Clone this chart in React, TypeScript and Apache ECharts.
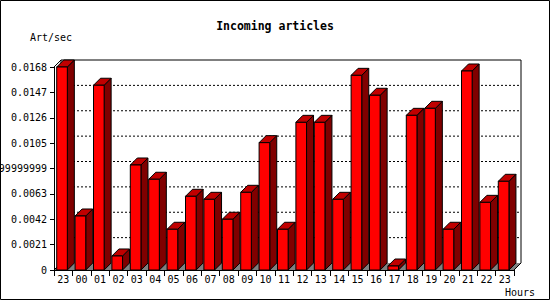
import React, { useEffect, useRef } from "react";
import * as echarts from "echarts";

const hours = ["23", "00", "01", "02", "03", "04", "05", "06", "07", "08", "09", "10", "11", "12", "13", "14", "15", "16", "17", "18", "19", "20", "21", "22", "23"];
const artPerSec = [0.0168, 0.00447, 0.01529, 0.00116, 0.00869, 0.00751, 0.00337, 0.0061, 0.00585, 0.0042, 0.00643, 0.01054, 0.00337, 0.01222, 0.01222, 0.00585, 0.01611, 0.01446, 0.00033, 0.0128, 0.01338, 0.00337, 0.01647, 0.0056, 0.00734];
const yMax = 0.0168;
const yStep = 0.0021;
const yTickLabels = ["0", "0.0021", "0.0042", "0.0063", "0.00839999999999999", "0.0105", "0.0126", "0.0147", "0.0168"];
const gridTicks = [0.0021, 0.0042, 0.0063, 0.0084, 0.0105, 0.0126, 0.0147];

const FONT = "DejaVu Sans Mono";
const D = 7; // 3D depth in px

export default function App() {
  const ref = useRef<HTMLDivElement>(null);
  useEffect(() => {
    const chart = echarts.init(ref.current!, null, { renderer: "svg" });
    chart.setOption({
      animation: false,
      backgroundColor: "#fff",
      title: {
        text: "Incoming articles",
        left: "center",
        top: 20,
        padding: 0,
        textStyle: { fontFamily: FONT, fontSize: 11.5, fontWeight: "bold", color: "#000" },
      },
      grid: { left: 54, right: 36, top: 67, bottom: 30, containLabel: false, outerBoundsMode: "none" },
      xAxis: {
        type: "category",
        data: hours,
        boundaryGap: true,
        axisLine: { show: true, lineStyle: { color: "#000", width: 1 } },
        axisTick: { show: true, length: 6, alignWithLabel: false, lineStyle: { color: "#000" } },
        axisLabel: { interval: 0, margin: 4, color: "#000", fontFamily: FONT, fontSize: 10 },
        splitLine: { show: false },
      },
      yAxis: {
        type: "value",
        min: 0,
        max: yMax,
        interval: yStep,
        axisLine: { show: true, lineStyle: { color: "#000", width: 1 } },
        axisTick: { show: true, length: 4, lineStyle: { color: "#000" } },
        axisLabel: {
          margin: 7,
          color: "#000",
          fontFamily: FONT,
          fontSize: 10,
          formatter: (_v: number, i: number) => yTickLabels[i] ?? String(_v),
        },
        splitLine: { show: false },
      },
      graphic: [
        {
          type: "rect",
          shape: { x: 0.5, y: 0.5, width: 549, height: 299 },
          style: { fill: "none", stroke: "#000", lineWidth: 1 },
          z: 100,
        },
        {
          type: "text",
          x: 30,
          y: 37,
          style: { text: "Art/sec", fontFamily: FONT, fontSize: 10, fill: "#000", verticalAlign: "middle" },
        },
        {
          type: "text",
          x: 505,
          y: 292,
          style: { text: "Hours", fontFamily: FONT, fontSize: 10, fill: "#000", verticalAlign: "middle" },
        },
      ],
      series: [
        {
          type: "custom",
          name: "wall",
          z: 1,
          silent: true,
          data: [[0, 0]],
          renderItem: (params: any, api: any) => {
            const cs = params.coordSys;
            const x0 = cs.x;
            const x1 = cs.x + cs.width;
            const yb = api.coord([0, 0])[1];
            const yt = api.coord([0, yMax])[1];
            const children: any[] = [];
            children.push({
              type: "polygon",
              shape: { points: [[x0, yb], [x1, yb], [x1 + D, yb - D], [x0 + D, yb - D]] },
              style: { fill: "#808080", stroke: null },
            });
            gridTicks.forEach((t) => {
              const y = api.coord([0, t])[1] - D;
              children.push({
                type: "line",
                shape: { x1: x0 + D, y1: y, x2: x1 + D, y2: y },
                style: { stroke: "#000", lineWidth: 1, lineDash: [2, 2] },
              });
            });
            const lines = [
              [x0 + D, yt - D, x1 + D, yt - D],
              [x1 + D, yt - D, x1 + D, yb - D],
              [x0 + D, yt - D, x0 + D, yb - D],
              [x0, yt, x0 + D, yt - D],
              [x0, yb, x0 + D, yb - D],
              [x1, yb, x1 + D, yb - D],
            ];
            lines.forEach((l) =>
              children.push({
                type: "line",
                shape: { x1: l[0], y1: l[1], x2: l[2], y2: l[3] },
                style: { stroke: "#000", lineWidth: 1 },
              })
            );
            return { type: "group", children };
          },
        },
        {
          type: "custom",
          name: "Art/sec",
          z: 2,
          data: artPerSec.map((v, i) => [i, v]),
          renderItem: (params: any, api: any) => {
            const idx = api.value(0);
            const v = api.value(1);
            const top = api.coord([idx, v]);
            const base = api.coord([idx, 0]);
            const bw = api.size([1, 0])[0];
            const left = top[0] - bw * 0.353;
            const right = left + bw * 0.578;
            const yT = top[1];
            const yB = base[1];
            const stroke = { stroke: "#000", lineWidth: 1, lineJoin: "miter" };
            return {
              type: "group",
              children: [
                {
                  type: "polygon",
                  shape: { points: [[right, yT], [right + D, yT - D], [right + D, yB - D], [right, yB]] },
                  style: { fill: "#800000", ...stroke },
                },
                {
                  type: "polygon",
                  shape: { points: [[left, yT], [right, yT], [right + D, yT - D], [left + D, yT - D]] },
                  style: { fill: "#c00000", ...stroke },
                },
                {
                  type: "rect",
                  shape: { x: left, y: yT, width: right - left, height: yB - yT },
                  style: { fill: "#ff0000", ...stroke },
                },
              ],
            };
          },
        },
      ],
    });
    return () => chart.dispose();
  }, []);
  return (
    <div
      ref={ref}
      style={{ position: "fixed", left: 0, top: 0, width: 550, height: 300 }}
    />
  );
}
